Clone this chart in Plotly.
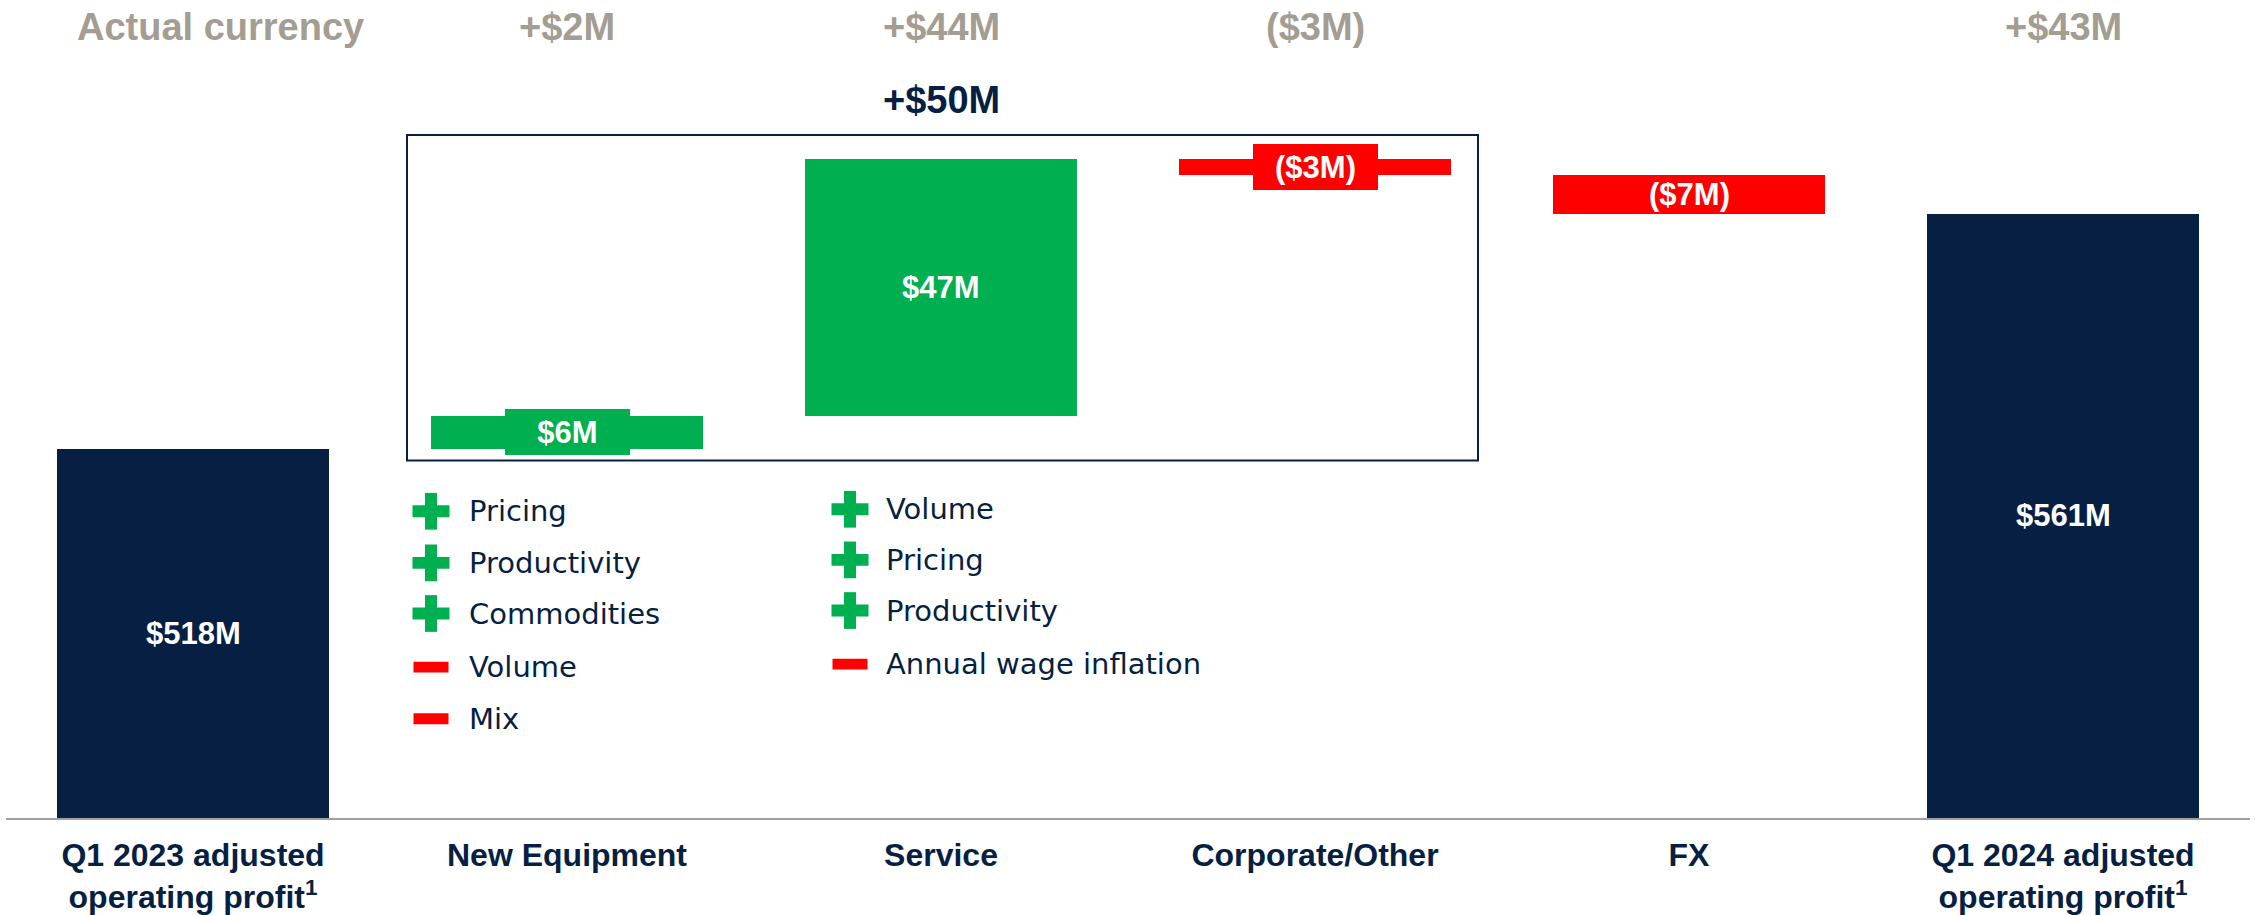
import plotly.graph_objects as go

# ---------------- data ----------------
categories = ["Q1 2023 adjusted<br>operating profit<sup>1</sup>", "New Equipment", "Service",
              "Corporate/Other", "FX", "Q1 2024 adjusted<br>operating profit<sup>1</sup>"]
start_value = 518
deltas = [6, 47, -3, -7]
end_value = 561
bar_labels = ["$518M", "$6M", "$47M", "($3M)", "($7M)", "$561M"]
actual_currency_labels = ["", "+$2M", "+$44M", "($3M)", "", "+$43M"]
constant_currency_total = "+$50M"
ne_plus = ["Pricing", "Productivity", "Commodities"]
ne_minus = ["Volume", "Mix"]
svc_plus = ["Volume", "Pricing", "Productivity"]
svc_minus = ["Annual wage inflation"]

# ---------------- style ----------------
NAVY = "#061F42"
GREEN = "#00B050"
RED = "#FF0000"
GREY = "#A39D92"
FONT = "Liberation Sans"
LEGEND_FONT = "DejaVu Sans"
BOXED_LABELS = {1, 3}   # labels drawn on a wider tab

W, H = 2255, 915
ML, MR, MT, MB = 6, 5, 0, 91
PW, PH = W - ML - MR, H - MT - MB
YMIN, YMAX = 450.4, 600.1


def px_x(px):
    return (px - ML) / PW


def px_y(py):
    return 1 - (py - MT) / PH


# waterfall geometry
xs, bases, heights, colors = [], [], [], []
xs.append(0); bases.append(0); heights.append(start_value); colors.append(NAVY)
cum = start_value
for i, d in enumerate(deltas):
    xs.append(i + 1)
    bases.append(cum if d >= 0 else cum + d)
    heights.append(abs(d))
    colors.append(GREEN if d >= 0 else RED)
    cum += d
xs.append(len(deltas) + 1); bases.append(0); heights.append(end_value); colors.append(NAVY)

fig = go.Figure()
fig.add_trace(go.Bar(x=xs, y=heights, base=bases, width=0.727,
                     marker=dict(color=colors, line=dict(width=0)),
                     hoverinfo="skip", showlegend=False))

annotations = []
# labels on bars
for i, (x, b, h, c, lab) in enumerate(zip(xs, bases, heights, colors, bar_labels)):
    lo = max(b, YMIN)
    mid = (lo + b + h) / 2
    ann = dict(x=x, y=mid, xref="x", yref="y", text=lab, showarrow=False,
               font=dict(family=FONT, size=31, color="white", weight="bold"),
               xanchor="center", yanchor="middle")
    if i in BOXED_LABELS:
        ann.update(bgcolor=c, width=125, height=46, borderpad=0, borderwidth=0)
    annotations.append(ann)

# top row (actual currency)
annotations.append(dict(x=px_x(220), y=px_y(27), xref="paper", yref="paper",
                        text="Actual currency", showarrow=False,
                        font=dict(family=FONT, size=38, color=GREY, weight="bold"),
                        xanchor="center", yanchor="middle"))
for i, lab in enumerate(actual_currency_labels):
    if lab:
        annotations.append(dict(x=i, y=px_y(27), xref="x", yref="paper", text=lab,
                                showarrow=False,
                                font=dict(family=FONT, size=38, color=GREY, weight="bold"),
                                xanchor="center", yanchor="middle"))
annotations.append(dict(x=2, y=px_y(101), xref="x", yref="paper", text=constant_currency_total,
                        showarrow=False,
                        font=dict(family=FONT, size=38, color=NAVY, weight="bold"),
                        xanchor="center", yanchor="middle"))

shapes = []
# constant currency box
shapes.append(dict(type="rect", xref="paper", yref="paper",
                   x0=px_x(407), x1=px_x(1478), y0=px_y(464), y1=px_y(136),
                   line=dict(color=NAVY, width=2), fillcolor="rgba(0,0,0,0)"))


def plus_icon(cx, cy, size=37, thick=12):
    for (w, h) in [(size, thick), (thick, size)]:
        shapes.append(dict(type="rect", xref="paper", yref="paper",
                           x0=px_x(cx - w / 2), x1=px_x(cx + w / 2),
                           y0=px_y(cy + h / 2), y1=px_y(cy - h / 2),
                           line=dict(width=0), fillcolor=GREEN))


def minus_icon(cx, cy, w=35, h=11):
    shapes.append(dict(type="rect", xref="paper", yref="paper",
                       x0=px_x(cx - w / 2), x1=px_x(cx + w / 2),
                       y0=px_y(cy + h / 2), y1=px_y(cy - h / 2),
                       line=dict(width=0), fillcolor=RED))


def legend_text(x, y, text):
    annotations.append(dict(x=px_x(x), y=px_y(y), xref="paper", yref="paper", text=text,
                            showarrow=False, xanchor="left", yanchor="middle",
                            font=dict(family=LEGEND_FONT, size=29, color=NAVY)))


col1_rows = [515, 567, 618, 672, 724]
col2_rows = [513, 564, 615, 669]
items1 = [(t, "+") for t in ne_plus] + [(t, "-") for t in ne_minus]
items2 = [(t, "+") for t in svc_plus] + [(t, "-") for t in svc_minus]
for (t, s), y in zip(items1, col1_rows):
    (plus_icon if s == "+" else minus_icon)(431, y)
    legend_text(467, y, t)
for (t, s), y in zip(items2, col2_rows):
    (plus_icon if s == "+" else minus_icon)(850, y)
    legend_text(884, y, t)

fig.update_layout(
    width=W, height=H,
    margin=dict(l=ML, r=MR, t=MT, b=MB),
    paper_bgcolor="white", plot_bgcolor="white",
    bargap=0,
    xaxis=dict(range=[-0.5, 5.5], tickvals=list(range(6)), ticktext=categories,
               showgrid=False, zeroline=False, showline=True, linecolor="#A0A0A0",
               linewidth=2, ticks="", ticklabelstandoff=8,
               tickfont=dict(family=FONT, size=32, color=NAVY, weight="bold")),
    yaxis=dict(range=[YMIN, YMAX], visible=False, showgrid=False, zeroline=False),
    annotations=annotations,
    shapes=shapes,
)

fig.write_html("out.html", config={"displayModeBar": False, "staticPlot": True},
               post_script="document.body.style.margin='0';document.body.style.overflow='hidden';")
